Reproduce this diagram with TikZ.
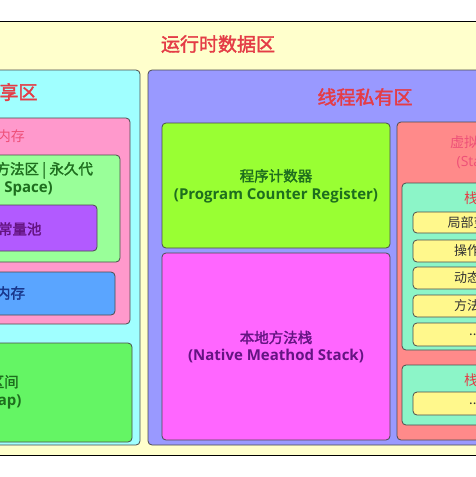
\documentclass[tikz,border=0pt]{standalone}
\usepackage{fontspec}
\setmainfont{Noto Sans CJK SC}
\newfontfamily\cjkbold{Noto Sans CJK SC}[FakeBold=2]
\newfontfamily\latfont{Open Sans}
\usepackage{tikz}
\usetikzlibrary{positioning}
\usepackage{xcolor}
\definecolor{rtyellow}{RGB}{255,255,204}
\definecolor{shcyan}{RGB}{160,255,255}
\definecolor{prpurple}{RGB}{153,153,255}
\definecolor{nhpink}{RGB}{255,153,204}
\definecolor{magreen}{RGB}{153,255,153}
\definecolor{cpviolet}{RGB}{178,90,255}
\definecolor{dmblue}{RGB}{90,165,255}
\definecolor{hpgreen}{RGB}{100,245,100}
\definecolor{pclime}{RGB}{153,255,51}
\definecolor{nsmagenta}{RGB}{255,102,255}
\definecolor{vmsalmon}{RGB}{255,138,138}
\definecolor{sfaqua}{RGB}{140,245,200}
\definecolor{ityellow}{RGB}{255,248,140}
\definecolor{ttred}{RGB}{228,60,70}
\definecolor{ttpink}{RGB}{238,80,120}
\definecolor{txgreen}{RGB}{30,110,30}
\definecolor{txpurple}{RGB}{100,20,130}
\definecolor{txblue}{RGB}{25,55,140}
\newcommand{\latb}[1]{{\latfont\bfseries\fontsize{15}{18}\selectfont #1}}
\tikzset{
  region/.style={draw=black!70, line width=0.8pt, rounded corners=4pt},
  bigtitle/.style={font=\cjkbold\fontsize{19}{23}\selectfont, text=ttred},
  boxtext/.style={font=\cjkbold\fontsize{14.5}{18}\selectfont, align=center},
  thintext/.style={font=\fontsize{14}{19}\selectfont, align=center, text=ttpink},
  itemtext/.style={font=\fontsize{13}{16}\selectfont, text=black!80}
}

\begin{document}
\begin{tikzpicture}[x=1pt,y=-1pt]
\useasboundingbox (0,0) rectangle (476,477);
\clip (0,0) rectangle (476,477);

% Runtime data area
\draw[fill=rtyellow, draw=black, line width=0.8pt] (-10,21) rectangle (486,455);
\node[bigtitle] (rda) at (218,44) {运行时数据区};

% Shared area
\draw[region, fill=shcyan] (-200,70) rectangle (140,445);
\node[bigtitle] (shared) at (-10,92) {线程共享区};
\draw[region, fill=nhpink] (-200,118) rectangle (130,324);
\node[thintext] (nonheap) at (-3,136) {非堆内存};
\draw[region, fill=magreen] (-32,155) rectangle (120,262);
\node[boxtext, text=txgreen, align=left, anchor=west] (method) at (-8,179) {方法区 | 永久代\\\hspace*{-40pt}\latb{(Perm Space)}};
\draw[region, fill=cpviolet] (-100,205) rectangle (97,251);
\node[boxtext, text=txpurple] (pool) at (-2,229) {运行时常量池};
\draw[region, fill=dmblue] (-100,272) rectangle (115,315);
\node[boxtext, text=txblue] (direct) at (-4,293) {直接内存};
\draw[region, fill=hpgreen] (-100,343) rectangle (132,442);
\node[boxtext, text=txgreen] (heap) at (-3,392) {堆区间\\\latb{(Heap)}};

% Thread private area
\draw[region, fill=prpurple] (148,70) rectangle (600,445);
\node[bigtitle] (private) at (365,97) {线程私有区};
\draw[region, fill=pclime] (162,123) rectangle (390,248);
\node[boxtext, text=txgreen] (pc) at (276,186) {程序计数器\\\latb{(Program Counter Register)}};
\draw[region, fill=nsmagenta] (162,253) rectangle (390,440);
\node[boxtext, text=txpurple] (native) at (276,347) {本地方法栈\\\latb{(Native Meathod Stack)}};

% VM stack
\draw[region, fill=vmsalmon] (397,122) rectangle (559,440);
\node[thintext] (vmstack) at (478,152) {虚拟机栈\\{\latfont (Stack)}};
\draw[region, fill=sfaqua] (402,183) rectangle (554,350);
\node[itemtext, text=ttred, font=\fontsize{14}{16}\selectfont] (frameA) at (478,198) {栈帧};
\draw[region, fill=ityellow] (413,212) rectangle (547,233);
\node[itemtext] (locals) at (480,222.5) {局部变量表};
\draw[region, fill=ityellow] (413,240) rectangle (547,262);
\node[itemtext] (operand) at (480,251) {操作数栈};
\draw[region, fill=ityellow] (413,267) rectangle (547,289);
\node[itemtext] (dynlink) at (480,278) {动态链接};
\draw[region, fill=ityellow] (413,295) rectangle (547,317);
\node[itemtext] (retaddr) at (480,306) {方法出口};
\draw[region, fill=ityellow] (413,323) rectangle (547,346);
\node[itemtext] (moreA) at (480,334.5) {......};
\draw[region, fill=sfaqua] (402,365) rectangle (554,425);
\node[itemtext, text=ttred, font=\fontsize{14}{16}\selectfont] (frameB) at (478,380) {栈帧};
\draw[region, fill=ityellow] (413,392) rectangle (547,415);
\node[itemtext] (moreB) at (480,403.5) {......};
\end{tikzpicture}
\end{document}
